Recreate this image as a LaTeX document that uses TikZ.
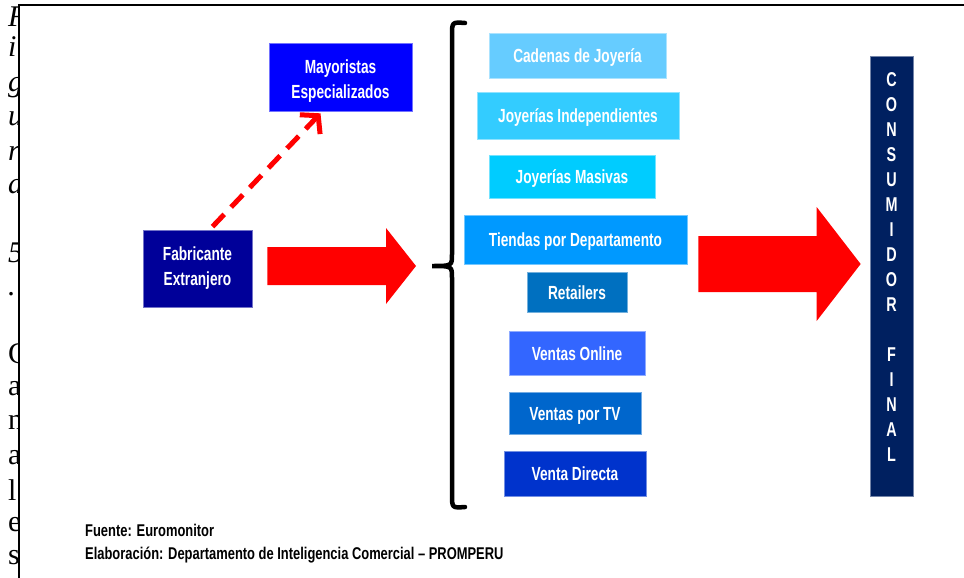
\documentclass[tikz,border=0pt]{standalone}
\usepackage{fontspec}
\setmainfont{Liberation Sans}[FakeStretch=0.72]
\newfontfamily\footfont{Liberation Sans}[FakeStretch=0.76]
\newfontfamily\pageserif{Liberation Serif}
\usetikzlibrary{arrows.meta,calc}

\definecolor{mayblue}{RGB}{0,0,255}
\definecolor{fabnavy}{RGB}{0,0,153}
\definecolor{chA}{RGB}{102,204,255}
\definecolor{chB}{RGB}{51,204,255}
\definecolor{chC}{RGB}{0,204,255}
\definecolor{chD}{RGB}{0,153,255}
\definecolor{chE}{RGB}{0,112,192}
\definecolor{chF}{RGB}{51,102,255}
\definecolor{chG}{RGB}{0,102,204}
\definecolor{chH}{RGB}{0,51,204}
\definecolor{consnavy}{RGB}{0,32,96}

\tikzset{
  pagechar/.style={anchor=base west, inner sep=0pt, font=\pageserif\fontsize{30}{30}\selectfont},
  boxtxt/.style={text=white, inner sep=0pt, font=\bfseries\fontsize{19}{25}\selectfont},
  canal/.style={boxtxt, fill=#1, draw=#1!55!white, line width=0.7pt,
                text height=16pt, text depth=2pt},
  actor/.style={boxtxt, fill=#1, draw=#1!55!white, line width=0.7pt, align=center},
  dasharrow/.style={red, line width=5pt, dash pattern=on 17pt off 10pt,
                    -{Straight Barb[length=12pt,width=28pt]}},
  foot/.style={anchor=base west, inner sep=0pt, font=\footfont\bfseries\fontsize{17}{20}\selectfont}
}

% block arrow: #1 start, #2 tip, #3 half shaft, #4 half head, #5 head length
\newcommand{\blockarrow}[5]{%
  \fill[red] ($(#1)+(0,-#3)$) -- ($(#2)+(-#5,-#3)$) -- ($(#2)+(-#5,-#4)$) -- (#2)
    -- ($(#2)+(-#5,#4)$) -- ($(#2)+(-#5,#3)$) -- ($(#1)+(0,#3)$) -- cycle;}

\begin{document}
\begin{tikzpicture}[x=1pt,y=-1pt]
\useasboundingbox (0,0) rectangle (964,578);

% letters of the page text behind the figure
\foreach \ch/\yb in {F/27,i/57,g/92,u/125,r/160,a/193,5/262,./295}
  \node[pagechar, font=\pageserif\itshape\fontsize{30}{30}\selectfont] (pi\yb) at (8,\yb) {\ch};
\foreach \ch/\yb in {C/363,a/395,n/429,a/464,l/500,e/531,s/564}
  \node[pagechar] (pu\yb) at (8,\yb) {\ch};

% figure frame
\fill[white] (19,5) rectangle (964,578);
\draw[line width=2pt] (19,578) -- (19,5) -- (964,5);

% actors
\node[actor=fabnavy, minimum width=109pt, minimum height=77pt] (fab) at (197.5,268.5) {Fabricante\\Extranjero};
\node[actor=mayblue, minimum width=143pt, minimum height=68pt,
      label={[boxtxt, align=center, yshift=-4pt]center:Mayoristas\\Especializados}] (may) at (340.5,77) {};

% channels
\node[canal=chA, minimum width=177pt, minimum height=45pt] (cadenas) at (577.5,55.5) {Cadenas de Joyería};
\node[canal=chB, minimum width=202pt, minimum height=47pt] (indep) at (578,115.5) {Joyerías Independientes};
\node[canal=chC, minimum width=166pt, minimum height=43pt] (masivas) at (572,176.5) {Joyerías Masivas};
\node[canal=chD, minimum width=223pt, minimum height=49pt] (tiendas) at (575.5,239.5) {Tiendas por Departamento};
\node[canal=chE, minimum width=100pt, minimum height=40pt] (retail) at (577,292) {Retailers};
\node[canal=chF, minimum width=136pt, minimum height=44pt] (online) at (577,353) {Ventas Online};
\node[canal=chG, minimum width=132pt, minimum height=42pt] (tv) at (575,413) {Ventas por TV};
\node[canal=chH, minimum width=142pt, minimum height=45pt] (directa) at (575,473.5) {Venta Directa};

% final consumer
\node[fill=consnavy, draw=consnavy!55!white, line width=0.7pt, minimum width=43pt, minimum height=440pt,
      label={[boxtxt, align=center, font=\bfseries\fontsize{20}{25}\selectfont, yshift=8.5pt]center:C\\O\\N\\S\\U\\M\\I\\D\\O\\R\\[25pt]F\\I\\N\\A\\L}]
      (cons) at (891.5,276) {};

% brace round the channels
\coordinate (brace) at (432,266);
\draw[line width=4.5pt, line cap=round]
  (465,23) .. controls (452,22) .. (452,36) -- (452,254)
  .. controls (452,266) .. (brace) .. controls (452,266) .. (452,278)
  -- (452,494) .. controls (452,508) .. (465,507);

% arrows
\coordinate (a1from) at ($(fab.east)+(15,-2.5)$);
\coordinate (a1to) at ($(brace)+(-16,0)$);
\coordinate (a2from) at ($(tiendas.east |- brace)+(11,-2)$);
\coordinate (a2to) at ($(cons.west |- a2from)+(-9,0)$);
\blockarrow{a1from}{a1to}{19}{38}{30}
\blockarrow{a2from}{a2to}{28}{57}{44}
\draw[dasharrow] ($(fab.north)+(15,-3)$) -- ($(may.south)+(-20,2)$);

% source
\node[foot] (fuente) at (85,536) {Fuente: Euromonitor};
\node[foot] (elab) at (85,559) {Elaboración: Departamento de Inteligencia Comercial – PROMPERU};
\end{tikzpicture}
\end{document}
